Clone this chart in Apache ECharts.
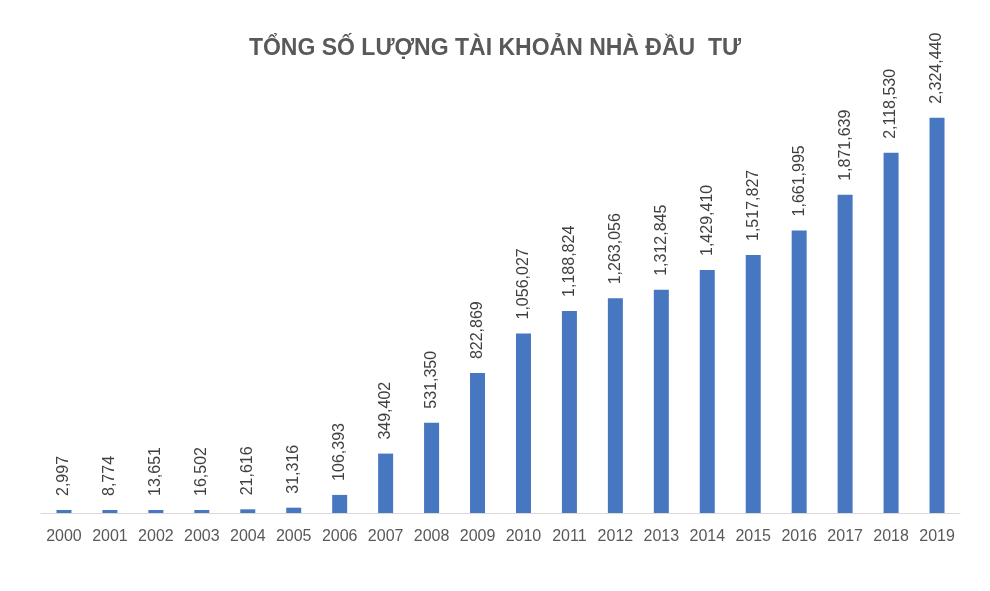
<!DOCTYPE html>
<html>
<head>
<meta charset="utf-8">
<script src="https://cdn.jsdelivr.net/npm/echarts@6/dist/echarts.min.js"></script>
<style>
  html, body { margin: 0; padding: 0; background: #fff; }
  #chart { width: 990px; height: 591px; }
</style>
</head>
<body>
<div id="chart"></div>
<script>
var years = ['2000','2001','2002','2003','2004','2005','2006','2007','2008','2009',
             '2010','2011','2012','2013','2014','2015','2016','2017','2018','2019'];
var accounts = [2997, 8774, 13651, 16502, 21616, 31316, 106393, 349402, 531350, 822869,
                1056027, 1188824, 1263056, 1312845, 1429410, 1517827, 1661995, 1871639, 2118530, 2324440];

var chart = echarts.init(document.getElementById('chart'));
chart.setOption({
  backgroundColor: '#fff',
  animation: false,
  title: {
    text: 'TỔNG SỐ LƯỢNG TÀI KHOẢN NHÀ ĐẦU  TƯ',
    left: 'center',
    top: 32,
    textStyle: { fontFamily: 'Liberation Sans', fontSize: 23, fontWeight: 'bold', color: '#595959' }
  },
  grid: { left: 41, right: 30, top: 71, bottom: 78 },
  xAxis: {
    type: 'category',
    data: years,
    axisLine: { lineStyle: { color: '#d9d9d9', width: 1 } },
    axisTick: { show: false },
    axisLabel: { interval: 0, color: '#595959', fontSize: 16, margin: 16, fontFamily: 'Liberation Sans' }
  },
  yAxis: {
    type: 'value',
    min: 0,
    max: 2600000,
    show: false
  },
  series: [{
    type: 'bar',
    data: accounts,
    barWidth: 15,
    barMinHeight: 3,
    itemStyle: { color: '#4677C0' },
    label: {
      show: true,
      position: 'top',
      rotate: 90,
      align: 'left',
      verticalAlign: 'middle',
      distance: 14,
      color: '#404040',
      fontSize: 16,
      fontFamily: 'Liberation Sans',
      formatter: function (p) { return p.value.toLocaleString('en-US'); }
    }
  }]
});
</script>
</body>
</html>
